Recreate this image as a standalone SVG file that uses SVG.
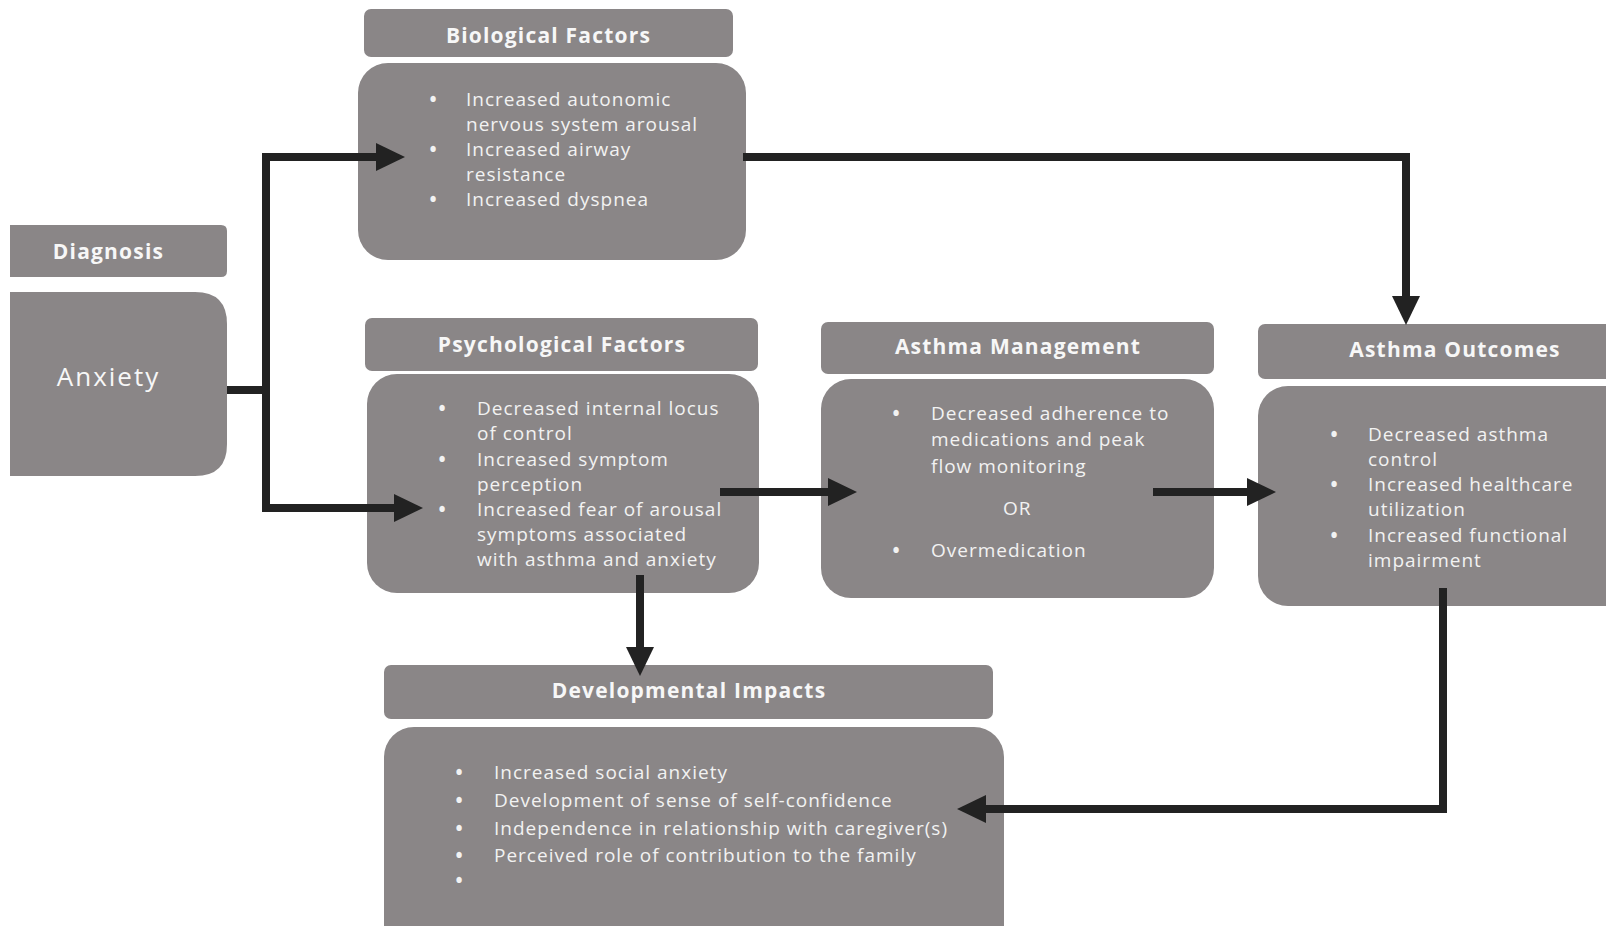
<svg xmlns="http://www.w3.org/2000/svg" width="1606" height="926" viewBox="0 0 1606 926">
<style>
.box{fill:#8a8687;}
.h{font-family:"Open Sans","Liberation Sans",sans-serif;font-weight:bold;font-size:21px;letter-spacing:1.2px;fill:#f7f7f7;text-anchor:middle;}
.t{font-family:"Open Sans","Liberation Sans",sans-serif;font-size:19px;letter-spacing:1px;fill:#f2f2f2;}
.bu{font-family:"Open Sans","Liberation Sans",sans-serif;font-size:19px;font-weight:bold;fill:#f2f2f2;text-anchor:middle;}
.big{font-family:"Open Sans","Liberation Sans",sans-serif;font-size:26px;letter-spacing:2px;fill:#f7f7f7;text-anchor:middle;}
.conn{fill:none;stroke:#222;stroke-width:8;stroke-linejoin:miter;}
</style>
<defs>
<marker id="ah" markerUnits="userSpaceOnUse" markerWidth="30" markerHeight="28" refX="0" refY="14" orient="auto">
<path d="M0,0 L29,14 L0,28 z" fill="#222"/>
</marker>
</defs>
<rect width="1606" height="926" fill="#ffffff"/>

<g id="diagnosis">
<path class="box" d="M10 225 H221 Q227 225 227 231 V271 Q227 277 221 277 H10 Z"/>
<text class="h" x="108.5" y="259">Diagnosis</text>
</g>

<g id="anxiety">
<path class="box" d="M10 292 H195 Q227 292 227 324 V444 Q227 476 195 476 H10 Z"/>
<text class="big" x="108.5" y="386">Anxiety</text>
</g>

<g id="biological">
<rect class="box" x="364" y="9" width="369" height="48" rx="7"/>
<text class="h" x="548.5" y="43">Biological Factors</text>
<rect class="box" x="358" y="63" width="388" height="197" rx="30"/>
<text class="bu" x="433" y="106">•</text>
<text class="t" x="466" y="106">Increased autonomic</text>
<text class="t" x="466" y="131">nervous system arousal</text>
<text class="bu" x="433" y="156">•</text>
<text class="t" x="466" y="156">Increased airway</text>
<text class="t" x="466" y="181">resistance</text>
<text class="bu" x="433" y="206">•</text>
<text class="t" x="466" y="206">Increased dyspnea</text>
</g>

<g id="psychological">
<rect class="box" x="365" y="318" width="393" height="53" rx="7"/>
<text class="h" x="562" y="352">Psychological Factors</text>
<rect class="box" x="367" y="374" width="392" height="219" rx="30"/>
<text class="bu" x="442" y="415">•</text>
<text class="t" x="477" y="415">Decreased internal locus</text>
<text class="t" x="477" y="440">of control</text>
<text class="bu" x="442" y="465.5">•</text>
<text class="t" x="477" y="465.5">Increased symptom</text>
<text class="t" x="477" y="490.5">perception</text>
<text class="bu" x="442" y="516">•</text>
<text class="t" x="477" y="516">Increased fear of arousal</text>
<text class="t" x="477" y="541">symptoms associated</text>
<text class="t" x="477" y="566">with asthma and anxiety</text>
</g>

<g id="management">
<rect class="box" x="821" y="322" width="393" height="52" rx="7"/>
<text class="h" x="1018" y="354">Asthma Management</text>
<rect class="box" x="821" y="379" width="393" height="219" rx="30"/>
<text class="bu" x="896" y="420">•</text>
<text class="t" x="931" y="420">Decreased adherence to</text>
<text class="t" x="931" y="446">medications and peak</text>
<text class="t" x="931" y="473">flow monitoring</text>
<text class="t" x="1003" y="515">OR</text>
<text class="bu" x="896" y="557">•</text>
<text class="t" x="931" y="557">Overmedication</text>
</g>

<g id="outcomes">
<rect class="box" x="1258" y="324" width="380" height="55" rx="7"/>
<text class="h" x="1455" y="357">Asthma Outcomes</text>
<rect class="box" x="1258" y="386" width="380" height="220" rx="30"/>
<text class="bu" x="1334" y="441">•</text>
<text class="t" x="1368" y="441">Decreased asthma</text>
<text class="t" x="1368" y="466">control</text>
<text class="bu" x="1334" y="491">•</text>
<text class="t" x="1368" y="491">Increased healthcare</text>
<text class="t" x="1368" y="516">utilization</text>
<text class="bu" x="1334" y="542">•</text>
<text class="t" x="1368" y="542">Increased functional</text>
<text class="t" x="1368" y="567">impairment</text>
</g>

<g id="developmental">
<rect class="box" x="384" y="665" width="609" height="54" rx="7"/>
<text class="h" x="689" y="698">Developmental Impacts</text>
<rect class="box" x="384" y="727" width="620" height="230" rx="30"/>
<text class="bu" x="459" y="779">•</text>
<text class="t" x="494" y="779">Increased social anxiety</text>
<text class="bu" x="459" y="807">•</text>
<text class="t" x="494" y="807">Development of sense of self-confidence</text>
<text class="bu" x="459" y="834.5">•</text>
<text class="t" x="494" y="834.5">Independence in relationship with caregiver(s)</text>
<text class="bu" x="459" y="862">•</text>
<text class="t" x="494" y="862">Perceived role of contribution to the family</text>
<text class="bu" x="459" y="887">•</text>
</g>

<g id="connectors">
<path class="conn" d="M266 390 V157 H376" marker-end="url(#ah)"/>
<path class="conn" d="M227 390 H266 V508 H394" marker-end="url(#ah)"/>
<path class="conn" d="M720 492 H828" marker-end="url(#ah)"/>
<path class="conn" d="M1153 492 H1247" marker-end="url(#ah)"/>
<path class="conn" d="M640 575 V647" marker-end="url(#ah)"/>
<path class="conn" d="M743 157 H1406 V296" marker-end="url(#ah)"/>
<path class="conn" d="M1443 588 V809 H986" marker-end="url(#ah)"/>
</g>
</svg>
